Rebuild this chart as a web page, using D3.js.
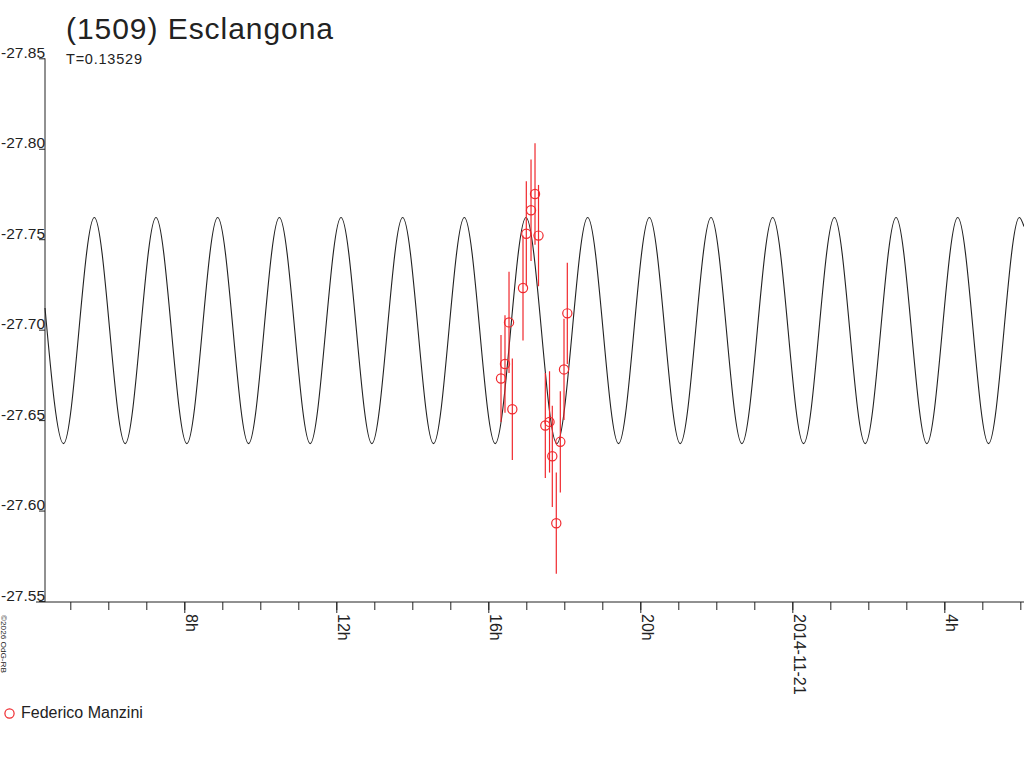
<!DOCTYPE html>
<html>
<head>
<meta charset="utf-8">
<script src="https://cdn.jsdelivr.net/npm/d3@7"></script>
<style>
  body { margin: 0; background: #fff; }
  text { font-family: "Liberation Sans", Arial, sans-serif; fill: #222; }
</style>
</head>
<body>
<div id="chart"></div>
<script>
// hours counted from 2014-11-20 00:00 UT
const obsHours = [16.334, 16.439, 16.545, 16.632, 16.913, 17.000, 17.124, 17.229,
                  17.321, 17.500, 17.611, 17.684, 17.789, 17.895, 17.992, 18.079];
const obsMag = [-27.673, -27.681, -27.704, -27.656, -27.723, -27.753, -27.766, -27.775,
                -27.752, -27.647, -27.649, -27.630, -27.593, -27.638, -27.678, -27.709];
const obsErr = [0.024, 0.027, 0.028, 0.028, 0.029, 0.029, 0.028, 0.028,
                0.028, 0.029, 0.028, 0.028, 0.028, 0.028, 0.028, 0.028];

// fitted lightcurve, read at its turning points
const fitHours = [4.334, 4.821, 5.632, 6.444, 7.255, 8.067, 8.878, 9.690, 10.501,
                  11.313, 12.124, 12.936, 13.746, 14.558, 15.369, 16.181, 16.992,
                  17.804, 18.615, 19.427, 20.238, 21.050, 21.861, 22.673, 23.484,
                  24.296, 25.107, 25.919, 26.730, 27.541, 28.353, 29.164, 29.975, 30.097];
const fitMag = [-27.712, -27.637, -27.762, -27.637, -27.762, -27.637, -27.762, -27.637, -27.762,
                -27.637, -27.762, -27.637, -27.762, -27.637, -27.762, -27.637, -27.762,
                -27.637, -27.762, -27.637, -27.762, -27.637, -27.762, -27.637, -27.762,
                -27.637, -27.762, -27.637, -27.762, -27.637, -27.762, -27.637, -27.762, -27.757];

const yTicks = [-27.85, -27.80, -27.75, -27.70, -27.65, -27.60, -27.55];
const title = "(1509) Esclangona";
const subtitle = "T=0.13529";
const observer = "Federico Manzini";

const width = 1024, height = 768;
const day0 = Date.UTC(2014, 10, 20);
const toDate = h => new Date(day0 + h * 3600e3);

const svg = d3.select("#chart").append("svg")
  .attr("width", width)
  .attr("height", height);

const x = d3.scaleUtc()
  .domain([toDate(4.334), toDate(30.097)])
  .range([45, 1024]);

const y = d3.scaleLinear()
  .domain([-27.85, -27.55])
  .range([58.3, 601]);

const red = "#f0282d";

// title
svg.append("text")
  .attr("x", 66).attr("y", 39)
  .attr("font-size", 30)
  .attr("textLength", 267).attr("lengthAdjust", "spacing")
  .text(title);
svg.append("text")
  .attr("x", 66).attr("y", 64)
  .attr("font-size", 14.5)
  .attr("textLength", 76).attr("lengthAdjust", "spacing")
  .text(subtitle);

// y axis
const yAxis = svg.append("g")
  .attr("transform", "translate(45,0)")
  .call(d3.axisLeft(y).tickValues(yTicks).tickSize(6).tickSizeOuter(0)
    .tickFormat(d => d.toFixed(2)));
yAxis.select(".domain").attr("d", `M0,${y(-27.85)}V602`).attr("stroke", "#222");
yAxis.selectAll(".tick line").attr("stroke", "#222");
yAxis.selectAll(".tick text")
  .attr("x", 0).attr("y", -1).attr("dy", null)
  .attr("text-anchor", "end")
  .attr("font-size", 15.5)
  .attr("font-family", "Liberation Sans, Arial, sans-serif")
  .attr("fill", "#222");

// x axis: hourly minor ticks, labelled ticks every 4 h
const xMinor = svg.append("g")
  .attr("transform", "translate(0,602)")
  .call(d3.axisBottom(x).ticks(d3.utcHour.every(1)).tickSize(8).tickSizeOuter(0).tickFormat(""));
xMinor.select(".domain").attr("d", "M36,0H1024").attr("stroke", "#222");
xMinor.selectAll(".tick line").attr("stroke", "#222");

const fmt = d => d.getUTCHours() === 0 ? d3.utcFormat("%Y-%m-%d")(d) : d.getUTCHours() + "h";
const xMajor = svg.append("g")
  .attr("transform", "translate(0,602)")
  .call(d3.axisBottom(x).ticks(d3.utcHour.every(4)).tickSize(11).tickSizeOuter(0).tickFormat(fmt));
xMajor.select(".domain").remove();
xMajor.selectAll(".tick line").attr("stroke", "#222");
xMajor.selectAll(".tick text")
  .attr("y", null).attr("dy", null)
  .attr("transform", "translate(1,12) rotate(90)")
  .attr("text-anchor", "start")
  .attr("font-size", 16)
  .attr("font-family", "Liberation Sans, Arial, sans-serif")
  .attr("fill", "#222");

// fitted curve
const line = d3.line()
  .x((d, i) => x(toDate(fitHours[i])))
  .y(d => y(d))
  .curve(d3.curveMonotoneX);
svg.append("path")
  .attr("d", line(fitMag))
  .attr("fill", "none")
  .attr("stroke", "#222")
  .attr("stroke-width", 1.1);

// observations
const obs = obsHours.map((h, i) => ({ t: toDate(h), m: obsMag[i], e: obsErr[i] }));
svg.append("g").selectAll("line")
  .data(obs).enter().append("line")
  .attr("x1", d => x(d.t)).attr("x2", d => x(d.t))
  .attr("y1", d => y(d.m - d.e)).attr("y2", d => y(d.m + d.e))
  .attr("stroke", red).attr("stroke-width", 1.2);
svg.append("g").selectAll("circle")
  .data(obs).enter().append("circle")
  .attr("cx", d => x(d.t)).attr("cy", d => y(d.m))
  .attr("r", 4.6)
  .attr("fill", "none")
  .attr("stroke", red).attr("stroke-width", 1.2);

// legend
svg.append("circle")
  .attr("cx", 9.5).attr("cy", 713.5).attr("r", 4.6)
  .attr("fill", "none").attr("stroke", red).attr("stroke-width", 1.2);
svg.append("text")
  .attr("x", 21).attr("y", 718)
  .attr("font-size", 16)
  .text(observer);

// credit
svg.append("text")
  .attr("transform", "translate(1,615) rotate(90)")
  .attr("font-size", 8)
  .attr("textLength", 58).attr("lengthAdjust", "spacingAndGlyphs")
  .text("\u00a92026 OdG-RB");
</script>
</body>
</html>
